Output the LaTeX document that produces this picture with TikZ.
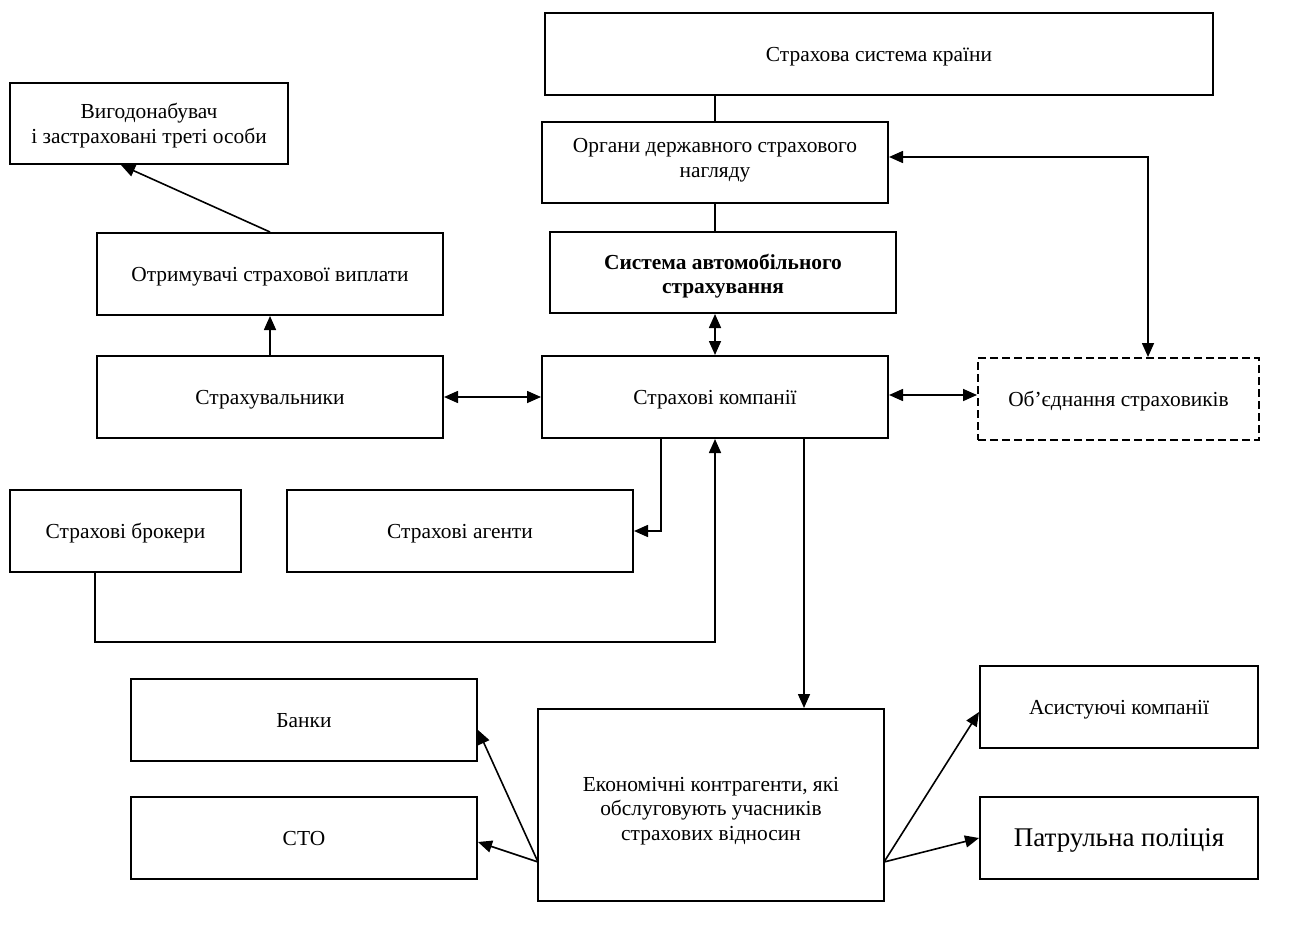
\documentclass[tikz,border=0pt]{standalone}
\usepackage{fontspec}
\setmainfont{Liberation Serif}
\usetikzlibrary{arrows.meta,calc,backgrounds}
\newcommand{\mylines}[2]{\raisebox{#1}{\begin{tabular}{@{}c@{}}#2\end{tabular}}}
\begin{document}
\begin{tikzpicture}[x=0.5pt,y=-0.5pt,
  box/.style={draw, line width=1pt, fill=white, align=center, inner sep=2pt,
    text depth=0pt, font=\fontsize{10.7}{12.4}\selectfont},
  sz/.style 2 args={minimum width={#1*0.5pt}, minimum height={#2*0.5pt}},
  conn/.style={line width=0.8pt},
  arr/.style={conn, -{Triangle[length=7pt,width=6pt]}},
  darr/.style={conn, {Triangle[length=7pt,width=6pt]}-{Triangle[length=7pt,width=6pt]}},
  dashbox/.style={dash pattern=on 4pt off 2pt}
]
\useasboundingbox (0,0) rectangle (1309,930);

\node[box, sz={668}{82}] (sys) at (879,54) {Страхова система країни};
\node[box, sz={278}{81}] (vyg) at (149,123.5) {Вигодонабувач\\і застраховані треті особи};
\node[box, sz={346}{81}] (org) at (715,162.5) {\mylines{12.5pt}{Органи державного страхового\\нагляду}};
\node[box, sz={346}{82}] (otr) at (270,274) {Отримувачі страхової виплати};
\node[box, sz={346}{81}, font=\fontsize{10.7}{12.4}\selectfont\bfseries] (avto) at (723,272.5) {\mylines{5.7pt}{Система автомобільного\\страхування}};
\node[box, sz={346}{82}] (str) at (270,397) {Страхувальники};
\node[box, sz={346}{82}] (komp) at (715,397) {Страхові компанії};
\node[box, dashbox, sz={281}{82}] (obj) at (1118.5,399) {Об’єднання страховиків};
\node[box, sz={231}{82}] (brok) at (125.5,531) {Страхові брокери};
\node[box, sz={346}{82}] (agent) at (460,531) {Страхові агенти};
\node[box, sz={346}{82}] (bank) at (304,720) {Банки};
\node[box, sz={346}{82}] (sto) at (304,838) {СТО};
\node[box, sz={346}{192}] (ekon) at (711,805) {\mylines{10pt}{Економічні контрагенти, які\\обслуговують учасників\\страхових відносин}};
\node[box, sz={278}{82}] (asyst) at (1119,707) {Асистуючі компанії};
\node[box, sz={278}{82}, font=\fontsize{13.5}{15}\selectfont] (pol) at (1119,838) {Патрульна поліція};

\coordinate (j1) at (1148,157);
\coordinate (k1) at (661,438);
\coordinate (b1) at (95,572);
\coordinate (b2) at (715,642);
\coordinate (k2) at (804,438);
\coordinate (eL) at (538,862);
\coordinate (eR) at (884,862);

\begin{scope}[on background layer]
\draw[conn] (sys.south -| org.center) -- (avto.north -| org.center);
\draw[arr] (otr.north) -- ($(vyg.south west)!0.4!(vyg.south east)$);
\draw[arr] (str.north) -- (otr.south);
\draw[darr] (str.east) -- (komp.west);
\draw[darr] (komp.north) -- (komp.north |- avto.south);
\draw[darr] ($(komp.east)+(0,-2)$) -- ($(komp.east -| obj.west)+(0,-2)$);
\draw[darr] (org.east |- j1) -- (j1) -- (j1 |- obj.north);
\draw[arr] (k1) |- (agent.east);
\draw[arr] (b1) |- (b2) -- (komp.south);
\draw[arr] (k2) -- (k2 |- ekon.north);
\draw[arr] (eL) -- ($(bank.east)+(0,10)$);
\draw[arr] (eL) -- ($(sto.east)+(0,4)$);
\draw[arr] (eR) -- ($(asyst.west)+(0,5)$);
\draw[arr] (eR) -- (pol.west);
\end{scope}
\end{tikzpicture}
\end{document}
